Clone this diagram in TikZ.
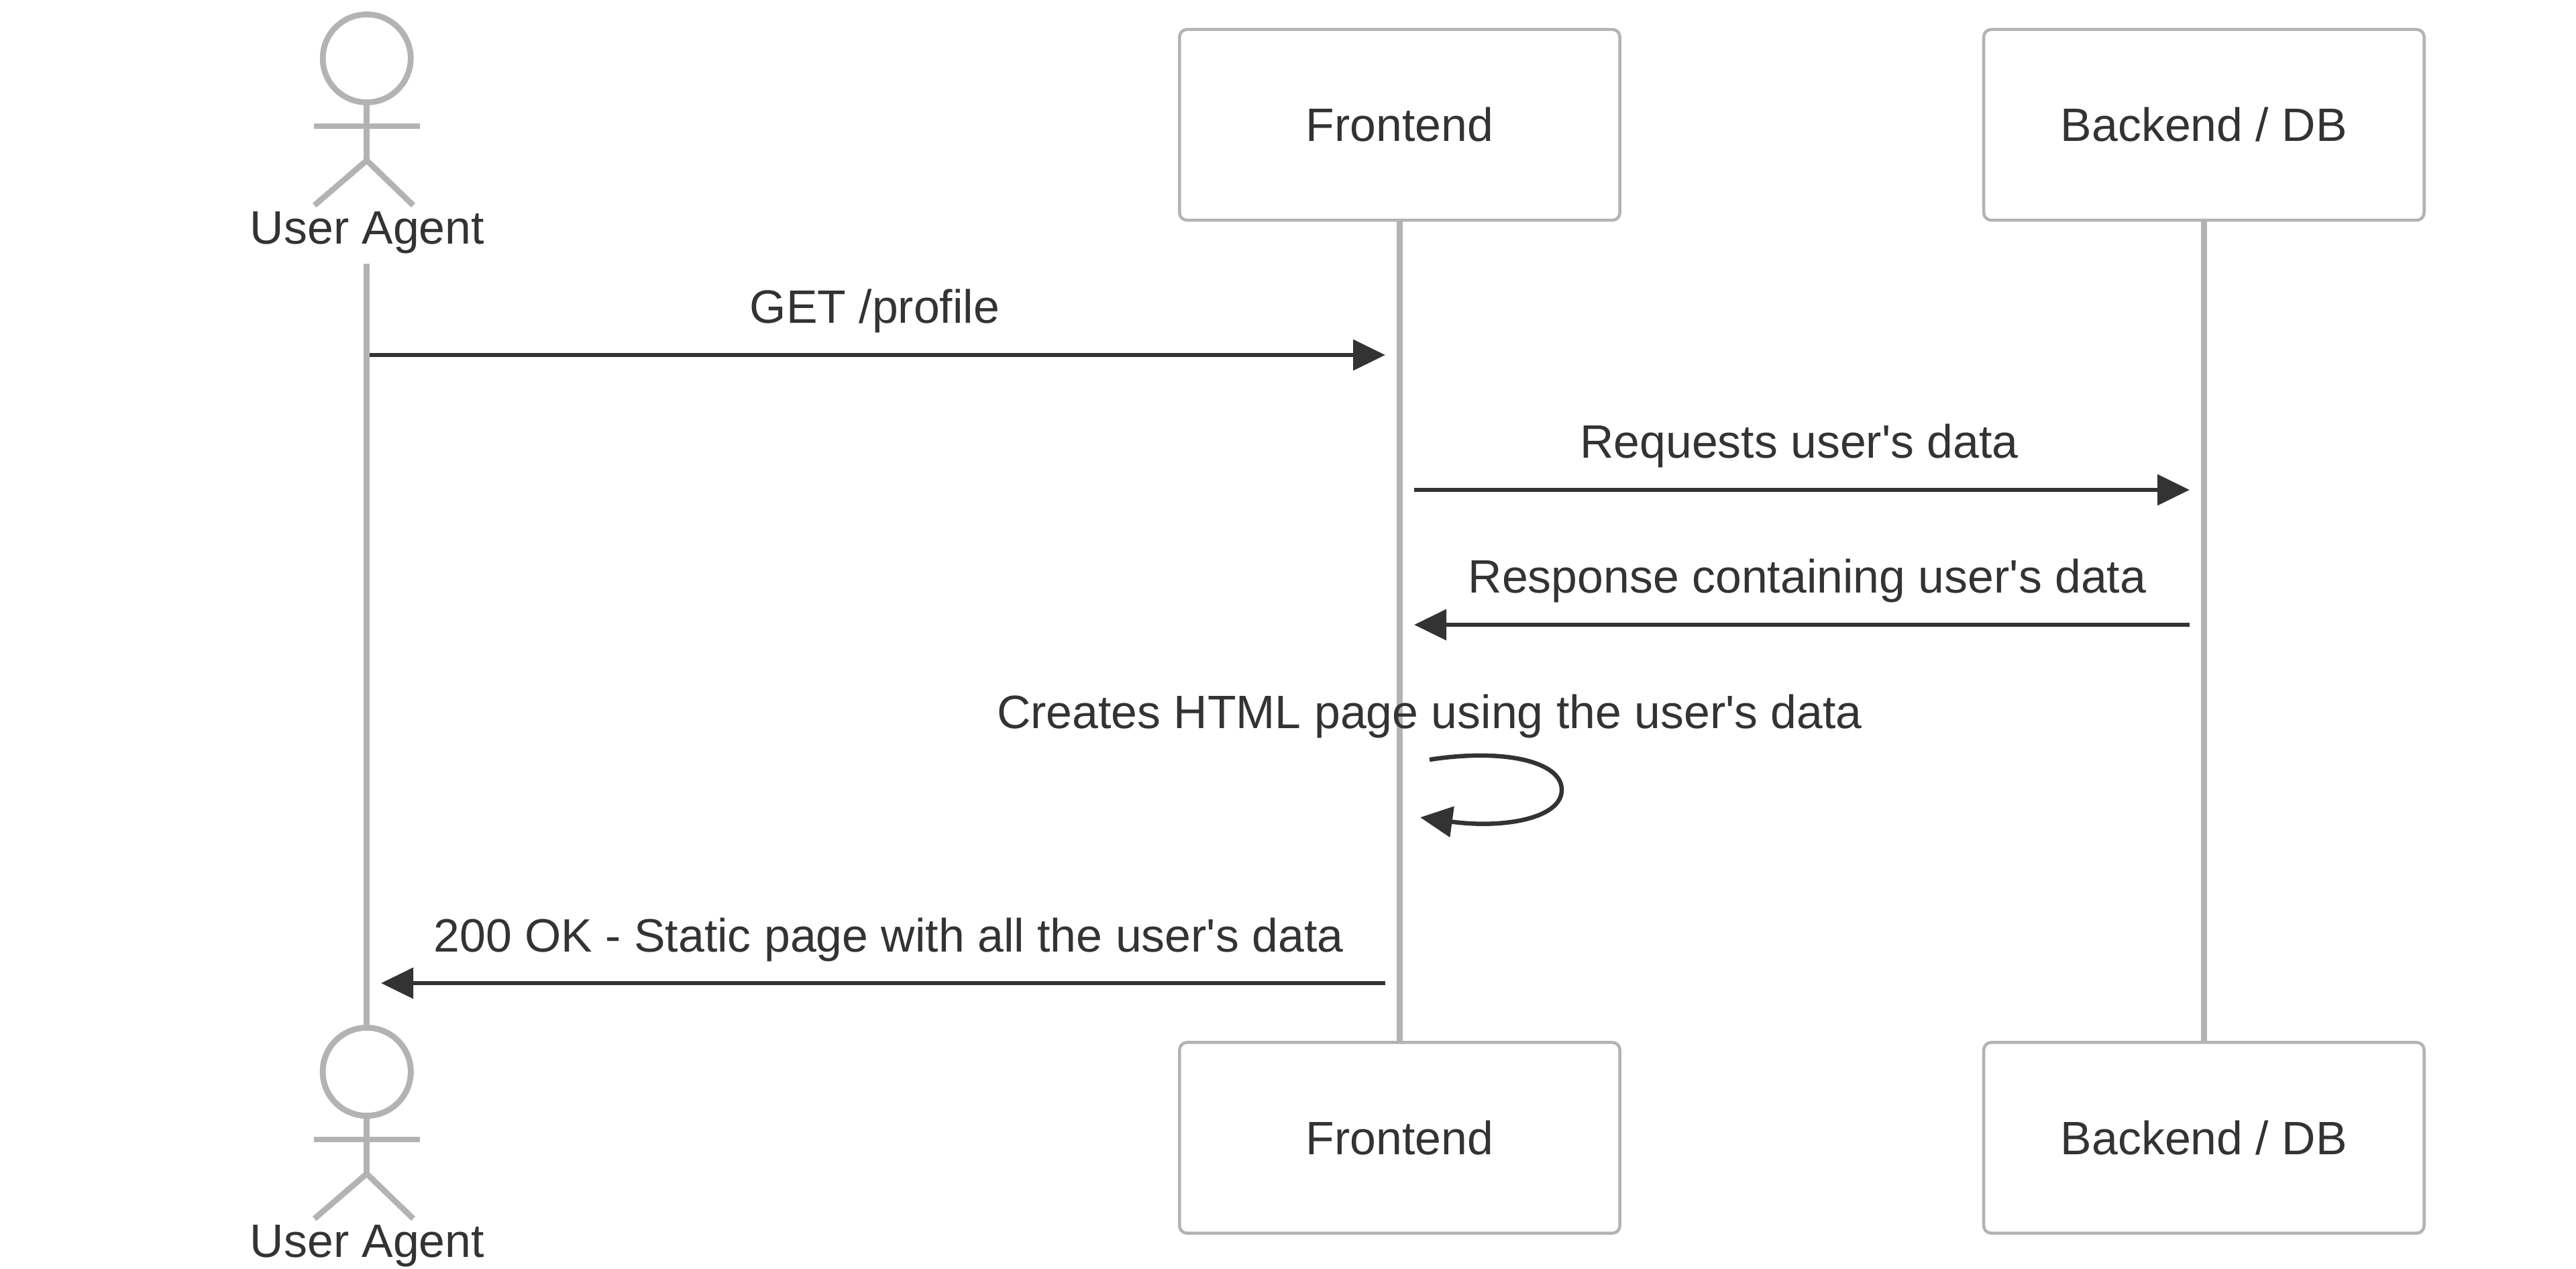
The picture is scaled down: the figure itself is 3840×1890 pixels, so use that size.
\documentclass[tikz,border=0pt]{standalone}
\usepackage{fontspec}
\usepackage{xcolor}
\usepackage{tikz}
\usetikzlibrary{arrows.meta,positioning}
\setmainfont{Liberation Sans}
\definecolor{lifegray}{HTML}{B3B3B3}
\definecolor{msgdark}{HTML}{333333}

\begin{document}
\begin{tikzpicture}[x=0.01cm,y=-0.01cm,
    font=\fontsize{19.85pt}{23pt}\selectfont,text=msgdark,
    actorline/.style={draw=lifegray,line width=0.087cm},
    actorhead/.style={circle,draw=lifegray,line width=0.087cm,fill=white,
      minimum size=1.31cm,inner sep=0pt,outer sep=0pt},
    partbox/.style={rectangle,draw=lifegray,line width=0.045cm,fill=white,
      rounded corners=0.11cm,minimum width=6.56cm,minimum height=2.84cm,
      inner sep=0pt,outer sep=0pt},
    msgarrow/.style={draw=msgdark,line width=0.065cm,
      -{Triangle[length=0.48cm,width=0.45cm,fill=msgdark]}},
    msglabel/.style={inner sep=0pt,outer sep=0pt,text depth=0pt}]
    \def\agentx{546.7}
    \def\frontx{2086.5}
    \def\backx{3285.3}
    \useasboundingbox (0,0) rectangle (3840,1890);

    \coordinate (agentlife) at (\agentx,393);
    \node[actorhead] (agenthead) at (\agentx,1597) {};
    \node[partbox] (fronttop) at (\frontx,186) {Frontend};
    \node[partbox] (backtop) at (\backx,186) {Backend / DB};
    \node[partbox] (frontbottom) at (\frontx,1695.5) {Frontend};
    \node[partbox] (backbottom) at (\backx,1695.5) {Backend / DB};

    \draw[actorline] (agentlife) -- (agenthead);
    \draw[actorline] (fronttop) -- (frontbottom);
    \draw[actorline] (backtop) -- (backbottom);

    \foreach \yshift/\actorname in {0/agenttop,1510/agentbottom} {
      \node[actorhead] (\actorname) at (\agentx,{87+\yshift}) {};
      \coordinate (\actorname hip) at (\agentx,{239+\yshift});
      \draw[actorline] (\actorname) -- (\actorname hip);
      \draw[actorline] (468,{188+\yshift}) -- (626,{188+\yshift});
      \draw[actorline] (468.7,{306+\yshift}) -- (\actorname hip) -- (616,{306+\yshift});
      \node[msglabel,anchor=base] (\actorname label) at (547.5,{363+\yshift}) {User Agent};
    }

    \coordinate (getstart) at (551,529);
    \coordinate (getend) at (2065,529);
    \coordinate (reqstart) at (2108,730);
    \coordinate (reqend) at (3264,730);
    \coordinate (respstart) at (3264,931);
    \coordinate (respend) at (2108,931);
    \coordinate (selfstart) at (2131,1132);
    \coordinate (selfturn) at (2328,1177);
    \coordinate (selfend) at (2117,1218);
    \coordinate (okstart) at (2065,1465);
    \coordinate (okend) at (568,1465);

    \draw[msgarrow] (getstart) -- node[msglabel,midway,above=0.47cm,xshift=-0.04cm] (getlabel) {GET /profile} (getend);
    \draw[msgarrow] (reqstart) -- node[msglabel,midway,above=0.47cm,xshift=-0.04cm] (reqlabel) {Requests user\textquotesingle s data} (reqend);
    \draw[msgarrow] (respstart) -- node[msglabel,midway,above=0.47cm,xshift=0.08cm] (resplabel) {Response containing user\textquotesingle s data} (respend);
    \draw[msgarrow] (okstart) -- node[msglabel,midway,above=0.47cm,xshift=0.08cm] (oklabel) {200 OK - Static page with all the user\textquotesingle s data} (okend);

    \node[msglabel,anchor=base] (selflabel) at (2131,1085) {Creates HTML page using the user\textquotesingle s data};
    \draw[msgarrow] (selfstart)
      .. controls (2240,1115) and (2328,1134) .. (selfturn)
      .. controls (2328,1220) and (2240,1235) .. (selfend);
\end{tikzpicture}
\end{document}
